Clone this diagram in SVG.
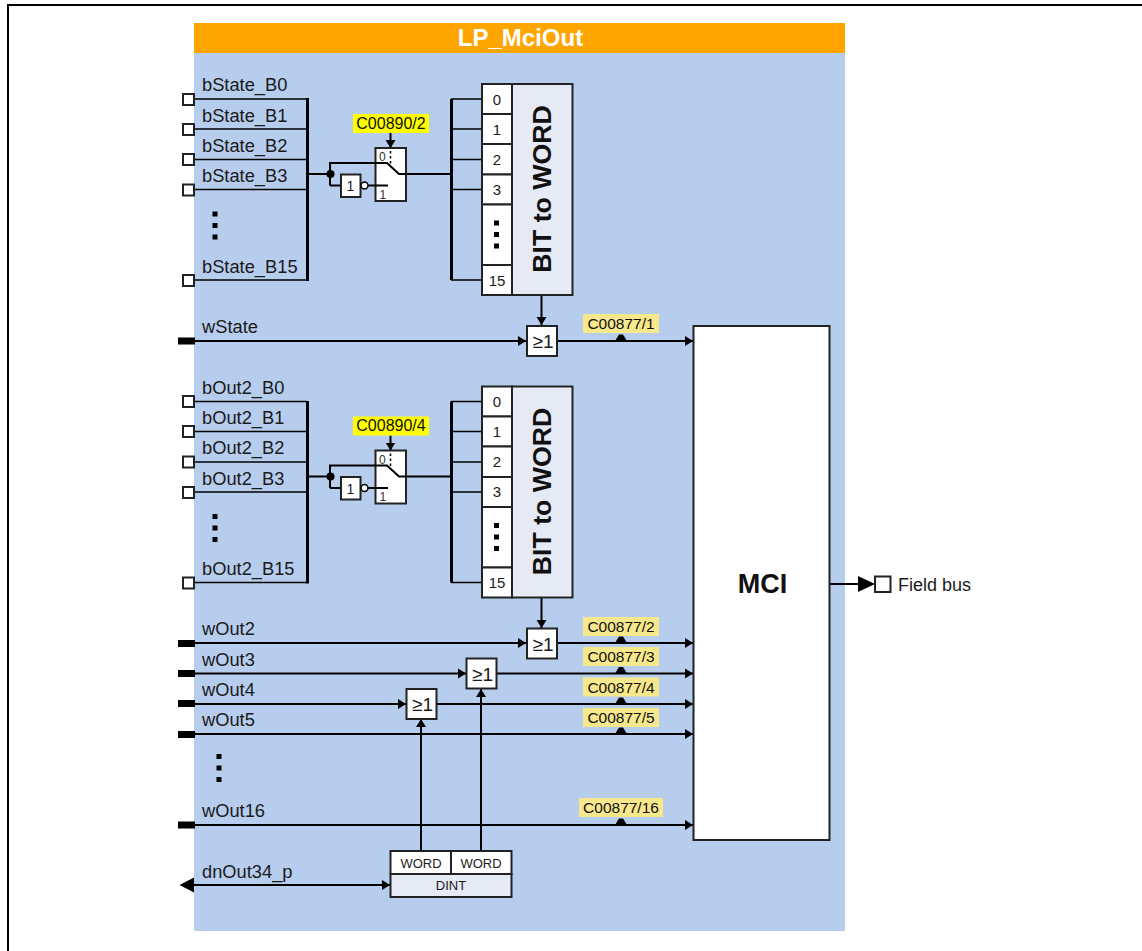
<svg xmlns="http://www.w3.org/2000/svg" width="1142" height="951" viewBox="0 0 1142 951">
<style>
text{font-family:"Liberation Sans",Arial,sans-serif;fill:#1a1a1a}
.l{font-size:18.300px}
.c{font-size:15.500px;text-anchor:middle;fill:#111}
.c2{font-size:16px;text-anchor:middle;fill:#111}
.n{font-size:15px;text-anchor:middle}
.w{stroke:#000;stroke-width:2;fill:none}
.t{stroke:#000;stroke-width:1.500;fill:none}
.b{stroke:#000;stroke-width:3;fill:none}
.a{stroke:#000;stroke-width:2;fill:none;marker-end:url(#ah)}
.box{fill:#fff;stroke:#222;stroke-width:2}
.grey{fill:#e6eaf5;stroke:#222;stroke-width:2}
.sq{fill:#fff;stroke:#222;stroke-width:2}
.blk{fill:#000}
.yl{fill:#ffff00}
.yp{fill:#f8e88c}
.sm{font-size:12px;fill:#333}
.or{font-size:19px;text-anchor:middle}
.big{font-size:26.700px;font-weight:bold;text-anchor:middle;fill:#111}
</style>
<defs>
<marker id="ah" markerUnits="userSpaceOnUse" markerWidth="10" markerHeight="12" refX="8" refY="6" orient="auto"><path d="M0 1 L8 6 L0 11 Z" fill="#000"/></marker>
<g id="dots"><rect x="-2.500" y="-14" width="5" height="5"/><rect x="-2.500" y="-2.500" width="5" height="5"/><rect x="-2.500" y="9" width="5" height="5"/></g>
<g id="tri"><path d="M-6 0 L-2 -6.500 L2 -6.500 L6 0 Z" fill="#000"/></g>
</defs>
<rect width="1142" height="951" fill="#fff"/>
<path d="M8 951 V5 H1142" fill="none" stroke="#000" stroke-width="2"/>
<g id="panel"><rect x="194" y="53" width="651" height="878" fill="#b7cdee"/><rect x="194" y="23" width="651" height="30" fill="#ffa500"/><text x="520.500" y="46" text-anchor="middle" font-size="24" font-weight="bold" style="fill:#fff">LP_MciOut</text></g>
<g id="connectors">
<g id="c-state">
<path class="t" d="M194 99H307M194 129H307M194 159.500H307M194 189.500H307M194 280H307"/>
<path class="b" d="M307.500 98V281"/>
<path class="w" d="M308 174H330M330 185.500V163H387L399 174H451M330 185.500H341M368 185.500H388"/>
<path class="b" d="M451.500 99V280"/>
<path class="t" d="M451 99H482M451 129H482M451 159.500H482M451 189.500H482M451 280H482"/>
<path class="a" d="M390.500 133V148"/>
<path class="a" d="M541.500 295V325"/>
</g>
<g id="c-out2">
<path class="t" d="M194 401.500H307M194 431.500H307M194 462H307M194 492H307M194 582.500H307"/>
<path class="b" d="M307.500 401V583.500"/>
<path class="w" d="M308 476.500H330M330 488V465.500H387L399 476.500H451M330 488H341M368 488H388"/>
<path class="b" d="M451.500 401.500V582.500"/>
<path class="t" d="M451 401.500H482M451 431.500H482M451 462H482M451 492H482M451 582.500H482"/>
<path class="a" d="M390.500 435.500V450.500"/>
<path class="a" d="M541.500 598V628"/>
</g>
<path class="a" d="M194 341H526"/><path class="a" d="M557 341H693"/>
<path class="a" d="M194 643H526"/><path class="a" d="M557 643H693"/>
<path class="a" d="M194 673.500H466"/><path class="a" d="M497 673.500H693"/>
<path class="a" d="M194 704H406"/><path class="a" d="M436 704H693"/>
<path class="a" d="M194 734H693"/>
<path class="a" d="M194 825H693"/>
<path class="a" d="M421 851V719"/><path class="a" d="M481 851V689"/>
<path class="a" d="M194 885H390"/>
<path class="w" d="M830 584H860"/>
</g>
<g id="ports" class="blk">
<rect x="178" y="337.500" width="17" height="7"/><rect x="178" y="640" width="17" height="7"/><rect x="178" y="670" width="17" height="7"/><rect x="178" y="700" width="17" height="7"/><rect x="178" y="731" width="17" height="7"/><rect x="178" y="821.500" width="17" height="7"/>
<path d="M179.500 885L194 877.500V892.500Z"/><path d="M858 576V592L875 584Z"/>
</g>
<g id="sq-state"><rect class="sq" x="183" y="94" width="11" height="11"/><rect class="sq" x="183" y="124" width="11" height="11"/><rect class="sq" x="183" y="154" width="11" height="11"/><rect class="sq" x="183" y="184.500" width="11" height="11"/><rect class="sq" x="183" y="275" width="11" height="11"/></g>
<g id="sq-out2"><rect class="sq" x="183" y="396" width="11" height="11"/><rect class="sq" x="183" y="426" width="11" height="11"/><rect class="sq" x="183" y="456.500" width="11" height="11"/><rect class="sq" x="183" y="487" width="11" height="11"/><rect class="sq" x="183" y="577.500" width="11" height="11"/></g>
<g id="labels-in">
<text class="l" x="202" y="91">bState_B0</text><text class="l" x="202" y="121.500">bState_B1</text><text class="l" x="202" y="151.500">bState_B2</text><text class="l" x="202" y="181.500">bState_B3</text><text class="l" x="202" y="272.500">bState_B15</text>
<text class="l" x="202" y="393.500">bOut2_B0</text><text class="l" x="202" y="424">bOut2_B1</text><text class="l" x="202" y="454">bOut2_B2</text><text class="l" x="202" y="484.500">bOut2_B3</text><text class="l" x="202" y="575">bOut2_B15</text>
<text class="l" x="202" y="333">wState</text><text class="l" x="202" y="635">wOut2</text><text class="l" x="202" y="665.500">wOut3</text><text class="l" x="202" y="696">wOut4</text><text class="l" x="202" y="726">wOut5</text><text class="l" x="202" y="817">wOut16</text><text class="l" x="202" y="878">dnOut34_p</text>
</g>
<use href="#dots" x="215" y="225.500"/><use href="#dots" x="215" y="528"/><use href="#dots" x="219" y="768"/>
<g id="node-inv1"><rect class="box" x="341" y="174.500" width="19.500" height="22.500"/><text x="350.500" y="191" font-size="14" text-anchor="middle">1</text><circle cx="364.500" cy="185.500" r="3.500" fill="#fff" stroke="#000" stroke-width="1.500"/></g>
<g id="node-sw1"><rect class="box" x="375.500" y="148" width="30.500" height="53"/><path class="w" d="M375 163H387L399 174H406M375 185.500H388"/><path d="M390.500 151V167" stroke="#000" stroke-width="1.500" stroke-dasharray="2.500 2.500"/><text class="sm" x="379" y="161">0</text><text class="sm" x="379.500" y="198.500">1</text></g>
<g id="node-inv2"><rect class="box" x="341" y="477" width="19.500" height="22.500"/><text x="350.500" y="493.500" font-size="14" text-anchor="middle">1</text><circle cx="364.500" cy="488" r="3.500" fill="#fff" stroke="#000" stroke-width="1.500"/></g>
<g id="node-sw2"><rect class="box" x="375.500" y="450.500" width="30.500" height="53"/><path class="w" d="M375 465.500H387L399 476.500H406M375 488H388"/><path d="M390.500 453.500V469.500" stroke="#000" stroke-width="1.500" stroke-dasharray="2.500 2.500"/><text class="sm" x="379" y="463.500">0</text><text class="sm" x="379.500" y="501">1</text></g>
<circle cx="330.500" cy="174" r="4" fill="#000"/><circle cx="330.500" cy="476.500" r="4" fill="#000"/>
<g id="node-bit1"><rect class="grey" x="512" y="84" width="60.500" height="211"/><rect class="box" x="482" y="84" width="30" height="30"/><rect class="box" x="482" y="114" width="30" height="30"/><rect class="box" x="482" y="144" width="30" height="30.500"/><rect class="box" x="482" y="174.500" width="30" height="30"/><rect class="box" x="482" y="204.500" width="30" height="60.500"/><rect class="box" x="482" y="265" width="30" height="30"/>
<text class="n" x="497" y="104.500">0</text><text class="n" x="497" y="134.500">1</text><text class="n" x="497" y="164.500">2</text><text class="n" x="497" y="194.500">3</text><text class="n" x="497" y="285.500">15</text><use href="#dots" x="496.500" y="234.500"/>
<text class="big" transform="translate(551,189) rotate(-90)">BIT to WORD</text></g>
<g id="node-bit2"><rect class="grey" x="512" y="386.500" width="60.500" height="211"/><rect class="box" x="482" y="386.500" width="30" height="30"/><rect class="box" x="482" y="416.500" width="30" height="30"/><rect class="box" x="482" y="446.500" width="30" height="30.500"/><rect class="box" x="482" y="477" width="30" height="30"/><rect class="box" x="482" y="507" width="30" height="60.500"/><rect class="box" x="482" y="567.500" width="30" height="30"/>
<text class="n" x="497" y="407">0</text><text class="n" x="497" y="437">1</text><text class="n" x="497" y="467">2</text><text class="n" x="497" y="497">3</text><text class="n" x="497" y="588">15</text><use href="#dots" x="496.500" y="537"/>
<text class="big" transform="translate(551,491.500) rotate(-90)">BIT to WORD</text></g>
<g id="or1"><rect class="box" x="527" y="326" width="30" height="30"/><text class="or" x="543" y="348">≥1</text></g>
<g id="or2"><rect class="box" x="527" y="628.500" width="30" height="30"/><text class="or" x="543" y="650.500">≥1</text></g>
<g id="or3"><rect class="box" x="466.500" y="658.500" width="30" height="30"/><text class="or" x="482.500" y="680.500">≥1</text></g>
<g id="or4"><rect class="box" x="406.500" y="689" width="30" height="30"/><text class="or" x="422.500" y="711">≥1</text></g>
<g id="node-mci"><rect class="box" x="693.500" y="326" width="136" height="514"/><text x="762.500" y="593" text-anchor="middle" font-size="27" font-weight="bold" style="fill:#111">MCI</text></g>
<g id="node-conv"><rect class="box" x="390.500" y="851" width="60.500" height="23"/><rect class="box" x="451" y="851" width="60.500" height="23"/><rect class="grey" x="390.500" y="874" width="121" height="23"/>
<text x="421" y="868" font-size="13" text-anchor="middle">WORD</text><text x="481" y="868" font-size="13" text-anchor="middle">WORD</text><text x="451" y="890" font-size="13" text-anchor="middle">DINT</text></g>
<g id="node-field"><rect class="sq" x="875" y="576.500" width="15.500" height="15.500" stroke-width="1.500"/><text x="898" y="590.500" font-size="18">Field bus</text></g>
<g id="codes">
<rect class="yl" x="353" y="114" width="76" height="19"/><text class="c2" x="391" y="129">C00890/2</text>
<rect class="yl" x="353" y="416.500" width="76" height="19"/><text class="c2" x="391" y="431">C00890/4</text>
<rect class="yp" x="583" y="314" width="76" height="19"/><text class="c" x="621" y="329">C00877/1</text>
<rect class="yp" x="583" y="617" width="76" height="19"/><text class="c" x="621" y="632">C00877/2</text>
<rect class="yp" x="583" y="647" width="76" height="19"/><text class="c" x="621" y="662">C00877/3</text>
<rect class="yp" x="583" y="677.500" width="76" height="19"/><text class="c" x="621" y="692.500">C00877/4</text>
<rect class="yp" x="583" y="708" width="76" height="19"/><text class="c" x="621" y="723">C00877/5</text>
<rect class="yp" x="579" y="798" width="84" height="19"/><text class="c" x="621" y="813">C00877/16</text>
<use href="#tri" x="621" y="341"/><use href="#tri" x="621" y="643"/><use href="#tri" x="621" y="673.500"/><use href="#tri" x="621" y="704"/><use href="#tri" x="621" y="734"/><use href="#tri" x="621" y="825"/>
</g>
</svg>
